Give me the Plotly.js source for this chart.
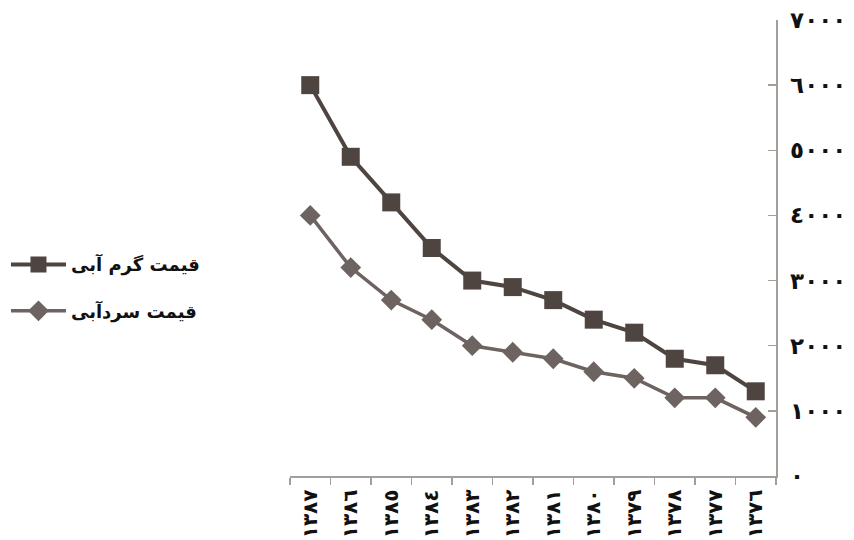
<!DOCTYPE html>
<html>
<head>
<meta charset="utf-8">
<script src="https://cdn.plot.ly/plotly-3.0.1.min.js"></script>
<style>html,body{margin:0;padding:0;background:#fff;}#chart{width:854px;height:540px;}</style>
</head>
<body>
<div id="chart"></div>
<script>
var years = ["١٣٨٧","١٣٨٦","١٣٨٥","١٣٨٤","١٣٨٣","١٣٨٢","١٣٨١","١٣٨٠","١٣٧٩","١٣٧٨","١٣٧٧","١٣٧٦"];
var hotPrice  = [6000, 4900, 4200, 3500, 3000, 2900, 2700, 2400, 2200, 1800, 1700, 1300];
var coldPrice = [4000, 3200, 2700, 2400, 2000, 1900, 1800, 1600, 1500, 1200, 1200, 900];
var yTickVals = [0, 1000, 2000, 3000, 4000, 5000, 6000, 7000];
var yTickText = ["٠","١٠٠٠","٢٠٠٠","٣٠٠٠","٤٠٠٠","٥٠٠٠","٦٠٠٠","٧٠٠٠"];
var hotName = "قیمت گرم آبی";
var coldName = "قیمت سردآبی";

var axisColor = "#a49e9a";
var font = "DejaVu Sans, sans-serif";

var traces = [
  {
    x: years, y: hotPrice, name: hotName, type: "scatter", mode: "lines+markers",
    line: {color: "#4e4541", width: 4},
    marker: {symbol: "square", size: 18, color: "#4e4541"},
    legendgroup: "a"
  },
  {
    x: years, y: coldPrice, name: coldName, type: "scatter", mode: "lines+markers",
    line: {color: "#6d6360", width: 3.5},
    marker: {symbol: "diamond", size: 16, color: "#6d6360"},
    legendgroup: "b"
  }
];

var layout = {
  width: 854, height: 540,
  margin: {l: 290, r: 78, t: 20, b: 64, autoexpand: false},
  paper_bgcolor: "#fff", plot_bgcolor: "#fff",
  font: {family: font, color: "#111"},
  showlegend: true,
  legend: {
    xref: "container", x: 0.007, xanchor: "left", y: 0.504, yanchor: "top",
    font: {family: font, size: 18, color: "#111", weight: "bold"},
    itemwidth: 55,
    tracegroupgap: 20, traceorder: "grouped", bgcolor: "rgba(0,0,0,0)"
  },
  xaxis: {
    type: "category",
    categoryorder: "array", categoryarray: years,
    range: [-0.5, 11.5], autorange: false,
    showgrid: false, zeroline: false,
    showline: true, linecolor: axisColor, linewidth: 1.5,
    ticks: "outside", tickson: "boundaries", ticklen: 7, tickcolor: axisColor, tickwidth: 1.5,
    tickangle: -90,
    ticklabelstandoff: 4,
    tickfont: {family: font, size: 20, color: "#111", weight: "bold"},
    automargin: false,
    fixedrange: true
  },
  yaxis: {
    side: "right", range: [0, 7000], autorange: false,
    tickvals: yTickVals, ticktext: yTickText,
    showgrid: false, zeroline: false,
    showline: true, linecolor: axisColor, linewidth: 1.5,
    ticks: "inside", ticklen: 8, tickcolor: axisColor, tickwidth: 1.5,
    tickfont: {family: font, size: 23, color: "#111", weight: "bold"},
    ticklabelstandoff: 8,
    automargin: false,
    fixedrange: true
  },
  yaxis2: {
    overlaying: "y", side: "right", range: [0, 7000], autorange: false,
    tickvals: yTickVals, showticklabels: false,
    showgrid: false, zeroline: false, showline: false,
    ticks: "outside", ticklen: 8, tickcolor: axisColor, tickwidth: 1.5,
    automargin: false,
    fixedrange: true
  }
};

Plotly.newPlot("chart", traces, layout, {displayModeBar: false, staticPlot: true});
</script>
</body>
</html>
